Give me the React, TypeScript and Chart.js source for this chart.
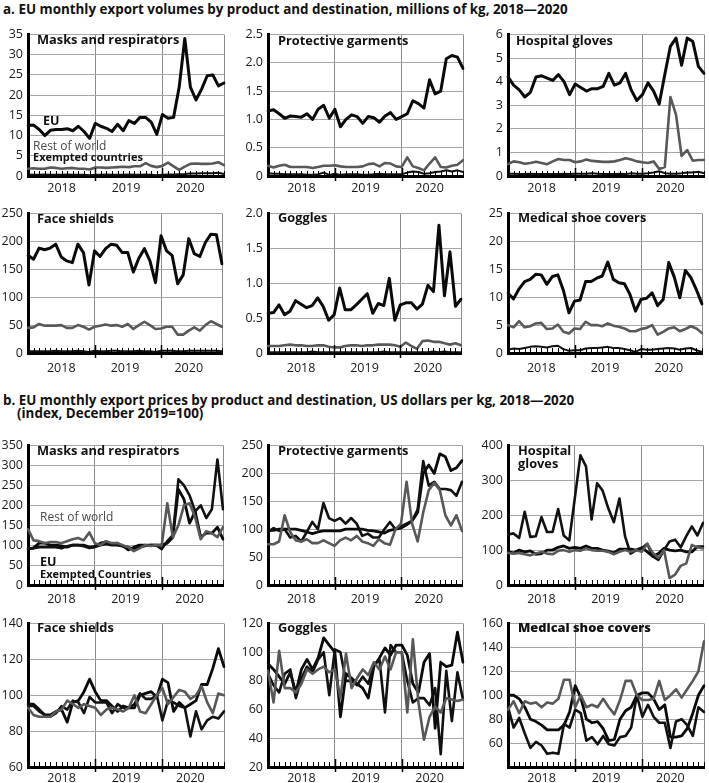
import React, { useEffect, useRef } from "react";
import { Chart, registerables } from "chart.js";

Chart.register(...registerables);

// ---------- categories ----------
const years = ["2018", "2019", "2020"];
const monthNames = ["Jan", "Feb", "Mar", "Apr", "May", "Jun", "Jul", "Aug", "Sep", "Oct", "Nov", "Dec"];
const months = years.flatMap((y) => monthNames.map((m) => `${m} ${y}`));
const yearLabelPositions = [6, 17.5, 29];
const yearBoundaries = [12, 24];

// ---------- a. volumes (millions of kg) ----------
const masksVolEU = [12.5, 12.6, 11.5, 10.0, 11.3, 11.5, 11.5, 11.7, 11.2, 12.3, 11.0, 9.3, 13.0, 12.3, 11.8, 11.0, 12.8, 11.2, 13.7, 13.0, 14.5, 14.5, 13.3, 10.3, 15.2, 14.3, 14.5, 22.0, 34.0, 22.0, 18.8, 21.5, 24.8, 25.0, 22.3, 23.0];
const masksVolROW = [1.8, 1.9, 1.8, 1.8, 2.1, 2.0, 1.8, 1.9, 2.0, 1.8, 1.8, 1.6, 2.1, 2.1, 2.0, 2.1, 2.2, 2.3, 2.2, 2.4, 2.4, 3.2, 2.5, 2.2, 2.5, 3.3, 2.4, 1.5, 2.3, 3.0, 3.1, 3.0, 3.0, 3.1, 3.4, 2.7];
const masksVolEx = [0.35, 0.3, 0.3, 0.35, 0.3, 0.3, 0.3, 0.35, 0.3, 0.3, 0.3, 0.2, 0.3, 0.3, 0.35, 0.3, 0.3, 0.3, 0.35, 0.3, 0.3, 0.35, 0.3, 0.2, 0.3, 0.4, 0.4, 0.45, 0.5, 0.6, 0.6, 0.7, 0.7, 0.7, 0.8, 0.5];

const garmVolEU = [1.15, 1.17, 1.1, 1.02, 1.06, 1.05, 1.04, 1.1, 1.0, 1.18, 1.25, 1.02, 1.18, 0.87, 1.0, 1.08, 1.05, 0.93, 1.05, 1.03, 0.95, 1.06, 1.12, 1.0, 1.05, 1.1, 1.33, 1.28, 1.2, 1.7, 1.45, 1.5, 2.07, 2.13, 2.1, 1.9];
const garmVolROW = [0.18, 0.15, 0.18, 0.2, 0.16, 0.16, 0.16, 0.16, 0.14, 0.16, 0.18, 0.18, 0.19, 0.17, 0.16, 0.16, 0.16, 0.17, 0.21, 0.22, 0.17, 0.23, 0.22, 0.17, 0.16, 0.33, 0.17, 0.14, 0.1, 0.22, 0.33, 0.16, 0.15, 0.18, 0.2, 0.28];
const garmVolEx = [0.05, 0.04, 0.04, 0.03, 0.03, 0.03, 0.03, 0.02, 0.02, 0.03, 0.06, 0.02, 0.04, 0.02, 0.03, 0.03, 0.03, 0.02, 0.02, 0.03, 0.04, 0.03, 0.03, 0.03, 0.03, 0.06, 0.08, 0.07, 0.04, 0.05, 0.07, 0.08, 0.1, 0.08, 0.1, 0.07];

const glovesVolEU = [4.2, 3.85, 3.65, 3.35, 3.55, 4.2, 4.25, 4.15, 4.05, 4.3, 4.0, 3.45, 3.9, 3.75, 3.6, 3.7, 3.7, 3.8, 4.35, 3.85, 3.95, 4.35, 3.65, 3.2, 3.45, 3.95, 3.6, 3.05, 4.3, 5.5, 5.85, 4.7, 5.85, 5.7, 4.65, 4.35];
const glovesVolROW = [0.5, 0.62, 0.58, 0.52, 0.55, 0.6, 0.55, 0.5, 0.62, 0.72, 0.68, 0.68, 0.58, 0.62, 0.7, 0.64, 0.62, 0.6, 0.6, 0.62, 0.68, 0.75, 0.7, 0.62, 0.58, 0.55, 0.62, 0.3, 0.38, 3.35, 2.6, 0.85, 1.1, 0.65, 0.68, 0.68];
const glovesVolEx = [0.1, 0.1, 0.08, 0.08, 0.1, 0.08, 0.08, 0.08, 0.08, 0.08, 0.1, 0.08, 0.1, 0.1, 0.1, 0.12, 0.1, 0.08, 0.08, 0.08, 0.1, 0.08, 0.12, 0.1, 0.1, 0.12, 0.15, 0.2, 0.12, 0.1, 0.1, 0.12, 0.15, 0.15, 0.18, 0.12];

const shieldsVolEU = [175, 168, 188, 185, 188, 195, 172, 165, 162, 195, 180, 122, 183, 173, 187, 195, 193, 180, 180, 145, 170, 187, 165, 126, 210, 183, 175, 124, 140, 205, 178, 173, 198, 213, 212, 160];
const shieldsVolROW = [45, 46, 52, 49, 49, 49, 50, 45, 45, 50, 47, 42, 47, 49, 51, 49, 50, 47, 52, 43, 50, 56, 50, 43, 44, 47, 47, 33, 33, 40, 46, 40, 50, 57, 52, 47];
const shieldsVolEx = [3, 3, 3, 3, 3, 4, 3, 3, 3, 4, 3, 2, 4, 3, 3, 4, 4, 3, 3, 3, 4, 3, 3, 2, 4, 4, 4, 3, 3, 4, 4, 4, 4, 4, 4, 3];

const gogglesVolEU = [0.57, 0.58, 0.69, 0.55, 0.6, 0.75, 0.7, 0.65, 0.68, 0.79, 0.67, 0.47, 0.55, 0.93, 0.62, 0.62, 0.69, 0.77, 0.85, 0.57, 0.71, 0.68, 1.07, 0.47, 0.69, 0.72, 0.72, 0.63, 0.7, 0.97, 0.88, 1.83, 0.82, 1.45, 0.67, 0.77];
const gogglesVolROW = [0.1, 0.1, 0.1, 0.11, 0.12, 0.11, 0.11, 0.1, 0.1, 0.11, 0.11, 0.09, 0.08, 0.08, 0.1, 0.11, 0.11, 0.1, 0.11, 0.11, 0.12, 0.12, 0.12, 0.11, 0.09, 0.15, 0.1, 0.06, 0.17, 0.18, 0.16, 0.16, 0.14, 0.12, 0.14, 0.11];
const gogglesVolEx = [0.01, 0.01, 0.01, 0.01, 0.01, 0.01, 0.01, 0.01, 0.02, 0.01, 0.01, 0.01, 0.01, 0.01, 0.01, 0.01, 0.01, 0.01, 0.01, 0.01, 0.01, 0.02, 0.01, 0.01, 0.01, 0.01, 0.01, 0.01, 0.01, 0.01, 0.02, 0.01, 0.02, 0.01, 0.01, 0.01];

const shoeVolEU = [10.7, 9.7, 11.5, 12.8, 13.2, 14.1, 14.0, 12.3, 13.7, 14.0, 11.2, 7.2, 9.3, 9.5, 12.8, 12.8, 13.4, 13.8, 16.3, 13.2, 12.6, 12.4, 10.5, 7.5, 9.6, 9.8, 10.8, 8.5, 9.6, 16.2, 13.6, 9.9, 14.8, 13.5, 11.3, 8.8];
const shoeVolROW = [5.0, 4.6, 5.7, 4.6, 4.8, 5.3, 5.4, 4.3, 4.4, 5.1, 3.8, 3.5, 4.4, 4.3, 5.6, 5.0, 5.0, 4.8, 5.3, 4.9, 4.7, 4.4, 3.9, 3.9, 4.3, 4.5, 5.0, 3.3, 3.8, 4.4, 4.6, 3.9, 4.3, 4.8, 4.4, 3.6];
const shoeVolEx = [0.6, 0.8, 0.7, 0.9, 1.1, 1.2, 1.1, 1.0, 1.2, 1.3, 0.7, 0.4, 0.5, 0.5, 0.8, 0.9, 0.9, 1.0, 1.1, 0.9, 0.9, 0.7, 0.5, 0.2, 0.7, 0.6, 0.6, 0.7, 0.8, 0.9, 0.8, 0.6, 0.8, 0.9, 0.5, 0.2];

// ---------- b. prices (index, Dec 2019 = 100) ----------
const masksPrEU = [90, 93, 105, 105, 100, 100, 98, 95, 100, 100, 100, 95, 97, 105, 108, 103, 105, 98, 88, 95, 100, 100, 100, 100, 100, 105, 120, 240, 215, 155, 185, 120, 130, 130, 145, 115];
const masksPrROW = [140, 112, 110, 105, 108, 108, 105, 110, 115, 118, 112, 132, 105, 100, 110, 105, 105, 100, 95, 85, 92, 100, 98, 100, 100, 205, 120, 150, 200, 205, 170, 115, 135, 130, 120, 145];
const masksPrEx = [92, 92, 95, 95, 95, 95, 92, 97, 100, 100, 97, 93, 95, 100, 103, 100, 100, 97, 95, 90, 95, 98, 100, 100, 90, 110, 125, 265, 250, 225, 185, 200, 168, 190, 315, 190];

const garmPrEU = [98, 98, 100, 100, 100, 100, 98, 95, 92, 95, 97, 97, 97, 97, 100, 100, 100, 100, 98, 97, 95, 93, 98, 100, 102, 108, 115, 130, 200, 215, 200, 235, 230, 205, 210, 223];
const garmPrROW = [73, 73, 78, 125, 95, 80, 78, 82, 75, 75, 80, 75, 70, 80, 85, 80, 88, 78, 75, 70, 82, 75, 72, 100, 110, 185, 110, 78, 130, 170, 183, 170, 125, 107, 125, 97];
const garmPrEx = [95, 102, 97, 100, 85, 88, 78, 95, 113, 100, 147, 120, 115, 120, 110, 120, 110, 88, 92, 85, 85, 100, 113, 100, 105, 110, 115, 135, 222, 178, 185, 172, 172, 170, 160, 185];

const glovesPrEU = [95, 92, 100, 95, 98, 88, 90, 100, 100, 108, 112, 105, 108, 105, 112, 105, 105, 100, 97, 92, 103, 103, 103, 100, 107, 95, 82, 90, 105, 100, 98, 100, 95, 95, 110, 110];
const glovesPrROW = [92, 90, 92, 88, 85, 90, 95, 90, 88, 98, 100, 95, 100, 98, 105, 100, 98, 98, 95, 88, 95, 100, 95, 100, 95, 118, 92, 78, 100, 20, 30, 55, 62, 115, 108, 105];
const glovesPrEx = [145, 148, 135, 210, 138, 140, 195, 152, 152, 218, 142, 128, 250, 372, 340, 188, 292, 270, 220, 180, 248, 140, 90, 100, 105, 118, 82, 72, 100, 125, 130, 108, 140, 168, 142, 178];

const shieldsPrEU = [95, 95, 92, 89, 89, 91, 92, 85, 96, 97, 102, 109, 102, 97, 97, 94, 91, 94, 93, 93, 100, 101, 102, 99, 109, 107, 91, 96, 93, 95, 97, 106, 106, 115, 126, 116];
const shieldsPrROW = [93, 89, 88, 88, 88, 91, 92, 97, 95, 93, 95, 94, 93, 89, 92, 93, 92, 91, 93, 100, 91, 90, 95, 100, 104, 95, 99, 103, 102, 98, 100, 105, 96, 90, 101, 100];
const shieldsPrEx = [94, 94, 91, 89, 88, 90, 94, 92, 97, 96, 90, 99, 96, 96, 96, 90, 95, 93, 93, 95, 101, 98, 98, 100, 86, 97, 96, 94, 93, 77, 91, 81, 86, 88, 87, 91];

const gogglesPrEU = [92, 88, 83, 78, 86, 72, 88, 95, 88, 96, 110, 105, 100, 55, 85, 82, 78, 75, 68, 90, 96, 103, 98, 105, 105, 98, 78, 72, 93, 99, 47, 93, 90, 91, 114, 93];
const gogglesPrROW = [87, 65, 101, 75, 75, 72, 78, 88, 85, 88, 90, 86, 88, 68, 99, 75, 82, 88, 84, 93, 88, 97, 88, 100, 100, 58, 109, 65, 39, 55, 62, 58, 68, 67, 66, 67];
const gogglesPrEx = [85, 77, 72, 85, 88, 68, 82, 90, 86, 95, 100, 70, 102, 100, 80, 80, 77, 83, 78, 91, 95, 58, 105, 100, 100, 80, 65, 68, 68, 63, 75, 29, 87, 52, 86, 67];

const shoePrEU = [100, 100, 97, 90, 80, 78, 75, 71, 71, 71, 75, 86, 108, 98, 80, 77, 78, 72, 62, 63, 80, 87, 90, 100, 102, 102, 97, 88, 92, 65, 65, 66, 72, 85, 100, 108];
const shoePrROW = [88, 95, 85, 95, 93, 94, 90, 94, 93, 97, 113, 113, 90, 100, 90, 92, 90, 97, 90, 84, 96, 112, 112, 100, 96, 96, 97, 112, 96, 100, 105, 98, 105, 112, 120, 145];
const shoePrEx = [90, 73, 81, 68, 56, 61, 58, 51, 52, 51, 76, 73, 88, 85, 62, 65, 59, 66, 59, 58, 65, 66, 73, 100, 82, 92, 82, 77, 77, 56, 78, 80, 75, 66, 90, 86];

// ---------- styles ----------
const FONT = "'Open Sans', 'DejaVu Sans', sans-serif";
const EU_COLOR = "#0a0a0a";
const ROW_COLOR = "#585858";
const EX_COLOR = "#111111";

type Series = { data: number[]; color: string; width: number };
type Spec = {
  axisX: number;
  plotTop: number;
  plotW: number;
  plotH: number;
  yMin: number;
  yMax: number;
  yStep: number;
  decimals: number;
  hide?: number[];
  xPad: number;
  series: Series[];
};

const PAD_L = 30;
const PAD_T = 10;
const PAD_R = 6;
const PAD_B = 26;

const monthTicks = {
  id: "monthTicks",
  afterDatasetsDraw(chart: any) {
    const { ctx, chartArea, scales } = chart;
    const xs = scales.x;
    ctx.save();
    ctx.strokeStyle = "#000";
    ctx.lineWidth = 1;
    months.forEach((_, i) => {
      const x = Math.round(xs.getPixelForValue(i)) + 0.5;
      ctx.beginPath();
      ctx.moveTo(x, chartArea.bottom);
      ctx.lineTo(x, chartArea.bottom - 5);
      ctx.stroke();
    });
    ctx.lineWidth = 1.5;
    yearBoundaries.forEach((v) => {
      const x = Math.round(xs.getPixelForValue(v)) + 0.5;
      ctx.beginPath();
      ctx.moveTo(x, chartArea.bottom - 8);
      ctx.lineTo(x, chartArea.bottom + 5);
      ctx.stroke();
    });
    ctx.restore();
  },
};

function Panel({ spec }: { spec: Spec }) {
  const ref = useRef<HTMLCanvasElement | null>(null);
  useEffect(() => {
    if (!ref.current) return;
    const chart = new Chart(ref.current, {
      type: "line",
      data: {
        labels: months,
        datasets: spec.series.map((s) => ({
          data: s.data,
          borderColor: s.color,
          borderWidth: s.width,
          pointRadius: 0,
          tension: 0,
          fill: false,
          borderJoinStyle: "round" as const,
          borderCapStyle: "round" as const,
        })),
      },
      options: {
        responsive: false,
        animation: false,
        devicePixelRatio: 1,
        events: [],
        layout: { padding: { left: 0, top: PAD_T, right: PAD_R, bottom: 0 } },
        plugins: { legend: { display: false }, tooltip: { enabled: false } },
        scales: {
          x: {
            type: "category",
            offset: false,
            afterBuildTicks: (s: any) => {
              s.ticks = [0, ...yearLabelPositions, ...yearBoundaries, months.length - 1]
                .sort((a, b) => a - b)
                .map((v) => ({ value: v }));
            },
            afterFit: (s: any) => {
              s.height = PAD_B;
            },
            ticks: {
              autoSkip: false,
              maxRotation: 0,
              padding: spec.xPad,
              color: "#1a1a1a",
              font: { family: FONT, size: 12.5 },
              callback: (v: any) => {
                const idx = yearLabelPositions.indexOf(Number(v));
                return idx >= 0 ? years[idx] : "";
              },
            },
            grid: {
              drawTicks: false,
              lineWidth: 1,
              color: (c: any) => {
                const v = c.tick ? c.tick.value : -1;
                return yearBoundaries.includes(v) || v === months.length - 1 ? "#8a8a8a" : "rgba(0,0,0,0)";
              },
            },
            border: { display: true, color: "#000", width: 3 },
          },
          y: {
            min: spec.yMin,
            max: spec.yMax,
            afterFit: (s: any) => {
              s.width = PAD_L;
            },
            ticks: {
              stepSize: spec.yStep,
              padding: 5,
              color: "#1a1a1a",
              font: { family: FONT, size: 12.5 },
              callback: (v: any) => {
                const n = Number(v);
                if (spec.hide && spec.hide.includes(n)) return "";
                return n === 0 ? "0" : n.toFixed(spec.decimals);
              },
            },
            grid: { drawTicks: false, color: "#a6a6a6", lineWidth: 1 },
            border: { display: true, color: "#000", width: 3 },
          },
        },
      },
      plugins: [monthTicks],
    } as any);
    return () => chart.destroy();
  }, [spec]);
  return (
    <canvas
      ref={ref}
      width={PAD_L + spec.plotW + PAD_R}
      height={PAD_T + spec.plotH + PAD_B}
      style={{ position: "absolute", left: spec.axisX - PAD_L, top: spec.plotTop - PAD_T }}
    />
  );
}

const colX = [28, 268, 508];
const colW = [196, 195, 196];
const rowTop = [32, 211, 443, 621];
const rowH = [144, 142, 142, 146];
const rowPad = [5, 8, 7, 4];

function vol(eu: number[], row: number[], ex: number[]): Series[] {
  return [
    { data: row, color: ROW_COLOR, width: 2.6 },
    { data: ex, color: EX_COLOR, width: 2 },
    { data: eu, color: EU_COLOR, width: 3 },
  ];
}
function pr(eu: number[], row: number[], ex: number[]): Series[] {
  return [
    { data: row, color: ROW_COLOR, width: 2.6 },
    { data: ex, color: EX_COLOR, width: 2.6 },
    { data: eu, color: EU_COLOR, width: 2.8 },
  ];
}

function mk(r: number, c: number, yMin: number, yMax: number, yStep: number, decimals: number, series: Series[], hide?: number[]): Spec {
  return { axisX: colX[c], plotTop: rowTop[r], plotW: colW[c], plotH: rowH[r], yMin, yMax, yStep, decimals, hide, xPad: rowPad[r], series };
}

const specs: Spec[] = [
  mk(0, 0, 0, 35, 5, 0, vol(masksVolEU, masksVolROW, masksVolEx)),
  mk(0, 1, 0, 2.5, 0.5, 1, vol(garmVolEU, garmVolROW, garmVolEx)),
  mk(0, 2, 0, 6, 1, 0, vol(glovesVolEU, glovesVolROW, glovesVolEx)),
  mk(1, 0, 0, 250, 50, 0, vol(shieldsVolEU, shieldsVolROW, shieldsVolEx)),
  mk(1, 1, 0, 2.0, 0.5, 1, vol(gogglesVolEU, gogglesVolROW, gogglesVolEx)),
  mk(1, 2, 0, 25, 5, 0, vol(shoeVolEU, shoeVolROW, shoeVolEx)),
  mk(2, 0, 0, 350, 50, 0, pr(masksPrEU, masksPrROW, masksPrEx)),
  mk(2, 1, 0, 250, 50, 0, pr(garmPrEU, garmPrROW, garmPrEx)),
  mk(2, 2, 0, 400, 100, 0, pr(glovesPrEU, glovesPrROW, glovesPrEx)),
  mk(3, 0, 60, 140, 20, 0, pr(shieldsPrEU, shieldsPrROW, shieldsPrEx)),
  mk(3, 1, 20, 120, 20, 0, pr(gogglesPrEU, gogglesPrROW, gogglesPrEx)),
  mk(3, 2, 40, 160, 20, 0, pr(shoePrEU, shoePrROW, shoePrEx), [40]),
];

type Txt = { t: string; x: number; y: number; size: number; weight: number; color?: string };
const texts: Txt[] = [
  { t: "a. EU monthly export volumes by product and destination, millions of kg, 2018—2020", x: 3, y: 9, size: 13.4, weight: 700 },
  { t: "b. EU monthly export prices by product and destination, US dollars per kg, 2018—2020", x: 3, y: 400, size: 13.4, weight: 700 },
  { t: "(index, December 2019=100)", x: 17, y: 413, size: 13.4, weight: 700 },
  { t: "Masks and respirators", x: 37, y: 40, size: 12.8, weight: 700 },
  { t: "Protective garments", x: 278, y: 41, size: 12.8, weight: 700 },
  { t: "Hospital gloves", x: 516, y: 41, size: 12.8, weight: 700 },
  { t: "Face shields", x: 37, y: 219, size: 12.8, weight: 700 },
  { t: "Goggles", x: 278, y: 218, size: 12.8, weight: 700 },
  { t: "Medical shoe covers", x: 518, y: 218, size: 12.8, weight: 700 },
  { t: "Masks and respirators", x: 37, y: 451, size: 12.8, weight: 700 },
  { t: "Protective garments", x: 278, y: 451, size: 12.8, weight: 700 },
  { t: "Hospital", x: 518, y: 451, size: 12.8, weight: 700 },
  { t: "gloves", x: 518, y: 464, size: 12.8, weight: 700 },
  { t: "Face shields", x: 37, y: 628, size: 12.8, weight: 700 },
  { t: "Goggles", x: 278, y: 628, size: 12.8, weight: 700 },
  { t: "Medical shoe covers", x: 518, y: 628, size: 12.8, weight: 800 },
  { t: "EU", x: 43, y: 120, size: 12.5, weight: 700 },
  { t: "Rest of world", x: 33, y: 146, size: 12, weight: 400, color: "#4a4a4a" },
  { t: "Exempted countries", x: 33, y: 157, size: 11, weight: 700 },
  { t: "Rest of world", x: 40, y: 517, size: 12, weight: 400, color: "#4a4a4a" },
  { t: "EU", x: 40, y: 561, size: 12.5, weight: 700 },
  { t: "Exempted Countries", x: 40, y: 574, size: 11, weight: 700 },
];

export default function App() {
  return (
    <div
      style={{
        position: "absolute",
        left: 0,
        top: 0,
        width: 709,
        height: 783,
        overflow: "hidden",
        background: "#fff",
      }}
    >
      {specs.map((s, i) => (
        <Panel key={i} spec={s} />
      ))}
      {texts.map((t, i) => (
        <div
          key={"t" + i}
          style={{
            position: "absolute",
            left: t.x,
            top: t.y - t.size * 0.6,
            fontFamily: FONT,
            fontSize: t.size,
            fontWeight: t.weight,
            lineHeight: `${t.size * 1.2}px`,
            color: t.color || "#111",
            whiteSpace: "nowrap",
          }}
        >
          {t.t}
        </div>
      ))}
    </div>
  );
}
